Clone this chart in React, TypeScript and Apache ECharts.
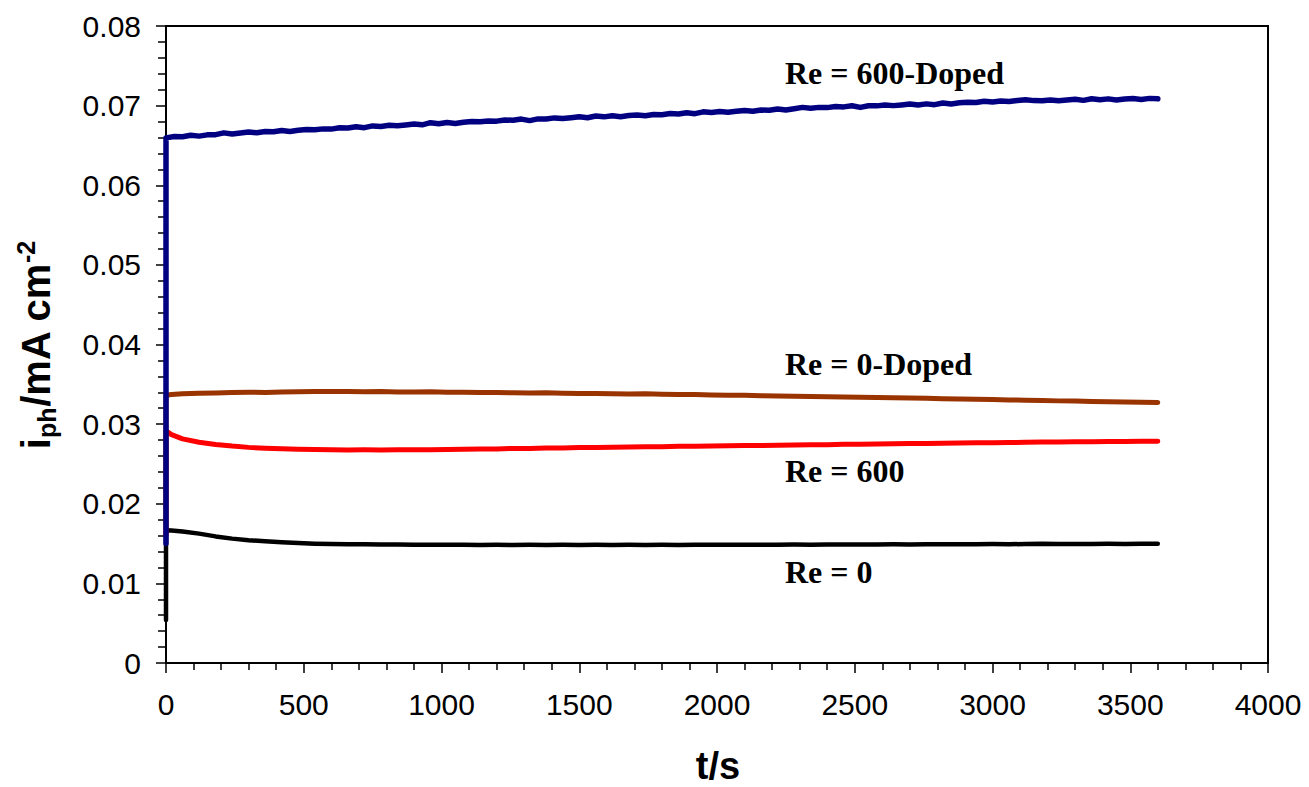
import { useEffect, useRef } from "react";
import * as echarts from "echarts";

// Sampling times (s)
const tFast = [
  0, 30, 60, 90, 120, 150, 180, 210, 240, 270,
  300, 330, 360, 390, 420, 450, 480, 510, 540, 570,
  600, 630, 660, 690, 720, 750, 780, 810, 840, 870,
  900, 930, 960, 990, 1020, 1050, 1080, 1110, 1140, 1170,
  1200, 1230, 1260, 1290, 1320, 1350, 1380, 1410, 1440, 1470,
  1500, 1530, 1560, 1590, 1620, 1650, 1680, 1710, 1740, 1770,
  1800, 1830, 1860, 1890, 1920, 1950, 1980, 2010, 2040, 2070,
  2100, 2130, 2160, 2190, 2220, 2250, 2280, 2310, 2340, 2370,
  2400, 2430, 2460, 2490, 2520, 2550, 2580, 2610, 2640, 2670,
  2700, 2730, 2760, 2790, 2820, 2850, 2880, 2910, 2940, 2970,
  3000, 3030, 3060, 3090, 3120, 3150, 3180, 3210, 3240, 3270,
  3300, 3330, 3360, 3390, 3420, 3450, 3480, 3510, 3540, 3570,
  3600,
];

const tSlow = [
  0, 20, 60, 120, 180, 240, 300, 360, 420, 480,
  540, 600, 660, 720, 780, 840, 900, 960, 1020, 1080,
  1140, 1200, 1260, 1320, 1380, 1440, 1500, 1560, 1620, 1680,
  1740, 1800, 1860, 1920, 1980, 2040, 2100, 2160, 2220, 2280,
  2340, 2400, 2460, 2520, 2580, 2640, 2700, 2760, 2820, 2880,
  2940, 3000, 3060, 3120, 3180, 3240, 3300, 3360, 3420, 3480,
  3540, 3600,
];

// Re = 600-Doped (navy), on tFast
const re600Doped = [
  0.06595, 0.06612, 0.0661, 0.06627, 0.06617, 0.06633, 0.06635, 0.06658, 0.06644, 0.06656,
  0.0667, 0.06659, 0.06674, 0.06672, 0.06687, 0.06676, 0.06691, 0.067, 0.06698, 0.06708,
  0.06705, 0.06721, 0.06718, 0.06734, 0.06723, 0.06745, 0.06739, 0.06753, 0.06746, 0.06757,
  0.0677, 0.06759, 0.06786, 0.06772, 0.06787, 0.06776, 0.06791, 0.068, 0.06798, 0.06808,
  0.06805, 0.0682, 0.06816, 0.06831, 0.06812, 0.06833, 0.06833, 0.06846, 0.06838, 0.06848,
  0.0686, 0.06848, 0.0687, 0.06859, 0.06873, 0.06861, 0.06875, 0.06883, 0.06872, 0.06889,
  0.06885, 0.069, 0.06896, 0.06911, 0.06899, 0.06922, 0.06913, 0.06926, 0.06918, 0.06928,
  0.0694, 0.06929, 0.06944, 0.06942, 0.06957, 0.06946, 0.06961, 0.06978, 0.06968, 0.06978,
  0.06975, 0.06989, 0.06984, 0.06998, 0.06978, 0.06998, 0.06997, 0.07009, 0.07, 0.07009,
  0.0702, 0.07008, 0.07022, 0.07012, 0.07033, 0.07021, 0.07035, 0.07043, 0.0704, 0.07056,
  0.07045, 0.07058, 0.07052, 0.07065, 0.07075, 0.07063, 0.07061, 0.07072, 0.07062, 0.0707,
  0.0708, 0.07066, 0.07086, 0.07073, 0.07085, 0.07071, 0.07083, 0.07089, 0.07078, 0.07091,
  0.07085,
];

// Re = 0-Doped (brown), on tSlow
const re0Doped = [
  0.03362, 0.03372, 0.0338, 0.03388, 0.03392, 0.03398, 0.03401, 0.03398, 0.03405, 0.03407,
  0.03411, 0.03409, 0.0341, 0.03406, 0.03409, 0.03405, 0.03404, 0.03406, 0.03401, 0.034,
  0.03397, 0.03398, 0.03394, 0.03392, 0.03393, 0.03388, 0.03385, 0.03386, 0.03381, 0.03379,
  0.0338, 0.03375, 0.03372, 0.03373, 0.03366, 0.03363, 0.03362, 0.03357, 0.03353, 0.0335,
  0.03348, 0.03344, 0.03342, 0.03337, 0.03334, 0.0333, 0.03328, 0.03324, 0.0332, 0.03317,
  0.03312, 0.03308, 0.03304, 0.03301, 0.03297, 0.03292, 0.03289, 0.03285, 0.03282, 0.03279,
  0.03276, 0.03272,
];

// Re = 600 (red), on tSlow
const re600 = [
  0.02915, 0.02868, 0.02815, 0.02772, 0.02745, 0.02724, 0.02708, 0.02697, 0.0269, 0.02684,
  0.02681, 0.02678, 0.02676, 0.02677, 0.02675, 0.02677, 0.02678, 0.02679, 0.02682, 0.02683,
  0.02688, 0.02689, 0.02694, 0.02695, 0.02699, 0.02701, 0.02705, 0.02707, 0.0271, 0.02712,
  0.02716, 0.02717, 0.02721, 0.02722, 0.02726, 0.02727, 0.02731, 0.02732, 0.02736, 0.02737,
  0.02741, 0.02742, 0.02746, 0.02747, 0.02751, 0.02752, 0.02756, 0.02757, 0.02761, 0.02762,
  0.02765, 0.02767, 0.0277, 0.02771, 0.02774, 0.02775, 0.02778, 0.02779, 0.02781, 0.02782,
  0.02785, 0.02786,
];

// Re = 0 (black), on tSlow
const re0 = [
  0.01668, 0.01663, 0.01652, 0.01625, 0.0159, 0.01562, 0.01542, 0.01528, 0.01516, 0.01506,
  0.01499, 0.01495, 0.01492, 0.0149, 0.01488, 0.01487, 0.01485, 0.01486, 0.01484, 0.01485,
  0.01483, 0.01484, 0.01483, 0.01485, 0.01483, 0.01484, 0.01482, 0.01484, 0.01483, 0.01485,
  0.01483, 0.01484, 0.01483, 0.01485, 0.01484, 0.01486, 0.01484, 0.01486, 0.01485, 0.01487,
  0.01486, 0.01488, 0.01487, 0.01489, 0.01488, 0.0149, 0.01489, 0.01491, 0.0149, 0.01492,
  0.01491, 0.01493, 0.01492, 0.01494, 0.01498, 0.01495, 0.01496, 0.01495, 0.01497, 0.01496,
  0.01498, 0.01497,
];

// Initial current at t = 0 before the light-on jump
const seriesNames = ["Re = 0", "Re = 600", "Re = 0-Doped", "Re = 600-Doped"];
const startValues = [0.0054, 0.016, 0.017, 0.015];
const seriesColors = ["#000000", "#ff0000", "#993300", "#000080"];

const xTickValues = [0, 500, 1000, 1500, 2000, 2500, 3000, 3500, 4000];
const yTickValues = [0, 0.01, 0.02, 0.03, 0.04, 0.05, 0.06, 0.07, 0.08];

function build(times: number[], vals: number[], start: number) {
  const out: number[][] = [[0, start]];
  for (let i = 0; i < times.length; i++) out.push([times[i], vals[i]]);
  return out;
}

export default function App() {
  const ref = useRef<HTMLDivElement>(null);
  useEffect(() => {
    if (!ref.current) return;
    const chart = echarts.init(ref.current, undefined, { renderer: "svg" });
    const dataSets = [
      build(tSlow, re0, startValues[0]),
      build(tSlow, re600, startValues[1]),
      build(tSlow, re0Doped, startValues[2]),
      build(tFast, re600Doped, startValues[3]),
    ];
    const widths = [4.5, 5, 5, 5.5];
    const labelFont = {
      fontSize: 32,
      fontWeight: "bold" as const,
      fontFamily: "'Liberation Serif', 'Times New Roman', serif",
      fill: "#000",
      verticalAlign: "middle" as const,
      align: "left" as const,
    };
    const sansBold = "'Liberation Sans', Arial, sans-serif";
    chart.setOption({
      animation: false,
      backgroundColor: "#fff",
      grid: {
        left: 166,
        right: 41,
        top: 26,
        bottom: 124,
        show: true,
        borderColor: "#000",
        borderWidth: 2,
        backgroundColor: "transparent",
        containLabel: false,
        outerBoundsMode: "none",
      },
      xAxis: {
        type: "value",
        min: xTickValues[0],
        max: xTickValues[xTickValues.length - 1],
        interval: 500,
        axisLine: { show: true, onZero: false, lineStyle: { color: "#000", width: 2 } },
        axisTick: { show: true, inside: false, length: 10, lineStyle: { color: "#000", width: 1.5 } },
        minorTick: { show: true, splitNumber: 5, length: 7, lineStyle: { color: "#000", width: 1.5 } },
        axisLabel: {
          color: "#000",
          fontSize: 30,
          fontFamily: "'Liberation Sans', Arial, sans-serif",
          margin: 26,
          formatter: (v: number) => String(v),
        },
        splitLine: { show: false },
      },
      yAxis: {
        type: "value",
        min: yTickValues[0],
        max: yTickValues[yTickValues.length - 1],
        interval: 0.01,
        axisLine: { show: true, onZero: false, lineStyle: { color: "#000", width: 2 } },
        axisTick: { show: true, inside: false, length: 10, lineStyle: { color: "#000", width: 1.5 } },
        minorTick: { show: true, splitNumber: 5, length: 8, lineStyle: { color: "#000", width: 1.5 } },
        axisLabel: {
          color: "#000",
          fontSize: 30,
          fontFamily: "'Liberation Sans', Arial, sans-serif",
          margin: 25,
          formatter: (v: number) => (v === 0 ? "0" : v.toFixed(2)),
        },
        splitLine: { show: false },
      },
      series: dataSets.map((d, i) => ({
        type: "line",
        name: seriesNames[i],
        data: d,
        showSymbol: false,
        symbol: "none",
        smooth: false,
        lineStyle: { color: seriesColors[i], width: widths[i], join: "round", cap: "round" },
        z: 2 + i,
      })),
      graphic: [
        { type: "text", x: 785, y: 72.5, style: { ...labelFont, text: seriesNames[3] } },
        { type: "text", x: 785, y: 363.5, style: { ...labelFont, text: seriesNames[2] } },
        { type: "text", x: 785, y: 471, style: { ...labelFont, text: seriesNames[1] } },
        { type: "text", x: 785, y: 572, style: { ...labelFont, text: seriesNames[0] } },
        {
          type: "text",
          x: 718,
          y: 766,
          style: {
            text: "t/s",
            fontSize: 38,
            fontWeight: "bold",
            fontFamily: sansBold,
            fill: "#000",
            align: "center",
            verticalAlign: "middle",
          },
        },
        {
          type: "text",
          x: 36,
          y: 345,
          rotation: Math.PI / 2,
          style: {
            text: "{a|i}{s|ph}{a|/mA cm}{p|-2}",
            align: "center",
            verticalAlign: "middle",
            fill: "#000",
            rich: {
              a: { fontSize: 40, fontWeight: "bold", fontFamily: sansBold, lineHeight: 46, fill: "#000" },
              s: {
                fontSize: 25,
                fontWeight: "bold",
                fontFamily: sansBold,
                lineHeight: 25,
                verticalAlign: "bottom",
                fill: "#000",
              },
              p: {
                fontSize: 25,
                fontWeight: "bold",
                fontFamily: sansBold,
                lineHeight: 25,
                verticalAlign: "top",
                fill: "#000",
              },
            },
          },
        },
      ],
    });
    return () => chart.dispose();
  }, []);
  return (
    <div
      ref={ref}
      style={{ position: "absolute", left: 0, top: 0, width: 1309, height: 787 }}
    />
  );
}
